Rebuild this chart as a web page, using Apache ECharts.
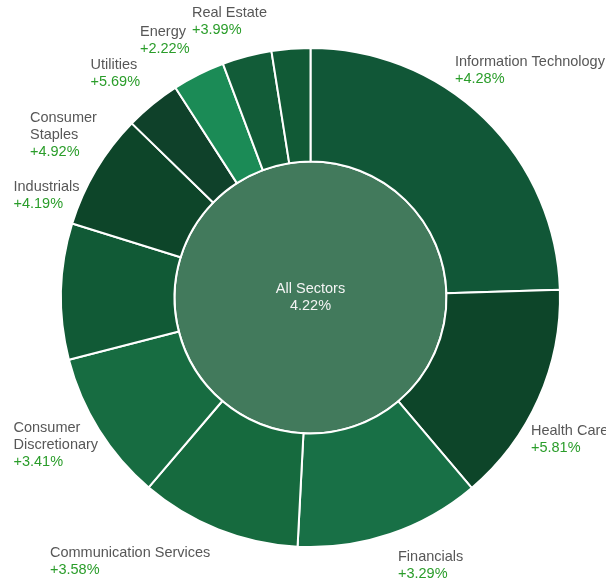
<!DOCTYPE html>
<html>
<head>
<meta charset="utf-8">
<script src="https://cdn.jsdelivr.net/npm/echarts@6/dist/echarts.min.js"></script>
<style>
  html, body { margin: 0; padding: 0; background: #fff; }
  #chart { width: 606px; height: 587px; }
</style>
</head>
<body>
<div id="chart"></div>
<script>
// ---- data ----
const sectors = ['Information Technology', 'Health Care', 'Financials', 'Communication Services',
  'Consumer Discretionary', 'Industrials', 'Consumer Staples', 'Utilities', 'Energy', 'Real Estate', 'Materials'];
const weights = [24.5, 14.3, 12.0, 10.4, 9.75, 8.8, 7.5, 3.6, 3.4, 3.2, 2.5];
const changes = [4.28, 5.81, 3.29, 3.58, 3.41, 4.19, 4.92, 5.69, 2.22, 3.99, null];
const totalName = 'All Sectors';
const totalChange = 4.22;

// ---- styles / layout ----
const sectorColors = ['#115737', '#0d4529', '#187046', '#166a3e', '#176c41', '#115a36',
  '#0d4529', '#0f412a', '#1b8b56', '#125c38', '#115a36'];
const nameWrap = {
  'Consumer Staples': ['Consumer', 'Staples'],
  'Consumer Discretionary': ['Consumer', 'Discretionary']
};
// top-left anchor of each outside label block
const labelAnchor = {
  'Information Technology': [455, 53.5],
  'Health Care': [531, 422.5],
  'Financials': [398, 548],
  'Communication Services': [50, 544.5],
  'Consumer Discretionary': [13.5, 419.5],
  'Industrials': [13.5, 178],
  'Consumer Staples': [30, 109.5],
  'Utilities': [90.5, 56],
  'Energy': [140, 23],
  'Real Estate': [192, 4]
};

const FONT = '"Liberation Sans", Arial, sans-serif';
const fmt = v => (v === null || v === undefined) ? '' : ((v >= 0 ? '+' : '') + v.toFixed(2) + '%');

const outerData = sectors.map((name, i) => ({
  name: name,
  value: weights[i],
  itemStyle: { color: sectorColors[i] },
  label: { show: changes[i] !== null }
}));

const chart = echarts.init(document.getElementById('chart'), null, { renderer: 'canvas' });
chart.setOption({
  animation: false,
  backgroundColor: '#ffffff',
  series: [
    {
      type: 'pie',
      silent: true,
      center: [310.5, 297.5],
      radius: [0, 136],
      itemStyle: { color: '#427a5c', borderColor: '#ffffff', borderWidth: 2 },
      label: {
        show: true,
        position: 'center',
        formatter: () => '{a|' + totalName + '}\n{a|' + totalChange.toFixed(2) + '%}',
        rich: {
          a: { color: '#f4f4f4', fontSize: 14.5, fontFamily: FONT, lineHeight: 17 }
        }
      },
      labelLine: { show: false },
      data: [{ name: totalName, value: 1 }]
    },
    {
      type: 'pie',
      silent: true,
      center: [310.5, 297.5],
      radius: [136, 249.5],
      startAngle: 90,
      clockwise: true,
      avoidLabelOverlap: false,
      itemStyle: { borderColor: '#ffffff', borderWidth: 2 },
      label: {
        position: 'outside',
        formatter: p => {
          const i = p.dataIndex;
          if (changes[i] === null) return '';
          const lines = nameWrap[p.name] || [p.name];
          return lines.map(l => '{n|' + l + '}').join('\n') + '\n{v|' + fmt(changes[i]) + '}';
        },
        rich: {
          n: { color: '#575757', fontSize: 14.5, fontFamily: FONT, lineHeight: 17, align: 'left' },
          v: { color: '#2a9d2a', fontSize: 14.5, fontFamily: FONT, lineHeight: 17, align: 'left' }
        }
      },
      labelLine: { show: false },
      labelLayout: params => {
        const a = labelAnchor[sectors[params.dataIndex]];
        if (!a) return {};
        return { x: a[0], y: a[1], align: 'left', verticalAlign: 'top' };
      },
      data: outerData
    }
  ]
});
</script>
</body>
</html>
